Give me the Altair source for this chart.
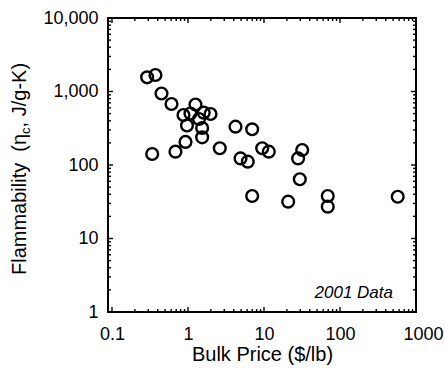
import altair as alt
import pandas as pd

# Bulk price ($/lb) and flammability (J/g-K)
price = [0.29, 0.373, 0.448, 0.607, 1.254, 0.872, 1.077, 1.61, 1.98, 1.395,
         0.97, 1.536, 1.536, 0.927, 0.338, 0.684, 2.62, 4.22, 6.99, 9.47,
         11.56, 4.91, 6.12, 6.99, 20.8, 31.8, 28.1, 29.6, 69.0, 69.0, 575]
flam = [1560, 1677, 939, 676, 666, 479, 502, 515, 494, 422,
        345, 319, 238, 206, 141, 152, 169, 332, 306, 169,
        152, 123, 111, 37.9, 31.7, 160, 123, 63.9, 37.9, 27.1, 37.0]

x_major = [0.1, 1, 10, 100, 1000]
x_minor = [round(m * d, 6) for d in [0.1, 1, 10, 100] for m in range(2, 10)]
y_major = [1, 10, 100, 1000, 10000]
y_minor = [m * d for d in [1, 10, 100, 1000] for m in range(2, 10)]
x_title = "Bulk Price ($/lb)"
y_title_parts = ["Flammability\u00a0 (η", "c", ", J/g-K)"]
annotation = ["2001 Data"]

FONT = "Liberation Sans"
W, H = 308, 294

df = pd.DataFrame({"price": price, "flam": flam})
xs = alt.Scale(type="log", domain=[0.0886, 1000], nice=False)
ys = alt.Scale(type="log", domain=[1, 10000], nice=False)

points = alt.Chart(df).mark_point(
    shape="circle", filled=False, color="black", size=138, strokeWidth=2.4, opacity=1
).encode(
    x=alt.X("price:Q", scale=xs,
            axis=alt.Axis(values=x_major, format="~g", ticks=False, tickSize=0, domain=False,
                          grid=False, labelFont=FONT, labelFontSize=18, labelColor="black",
                          labelPadding=13, labelFlush=False, labelAlign="center",
                          labelOverlap=False,
                          labelOffset={"condition": {"test": "datum.value >= 1000", "value": 7},
                                       "value": 0},
                          title=x_title, titleFont=FONT, titleFontSize=20,
                          titleFontWeight="normal", titleColor="black",
                          titleBaseline="alphabetic", titleY=48)),
    y=alt.Y("flam:Q", scale=ys,
            axis=alt.Axis(values=y_major, format=",d", ticks=False, tickSize=0, domain=False,
                          grid=False, labelFont=FONT, labelFontSize=18, labelColor="black",
                          labelPadding=10, labelFlush=False, labelOverlap=False, title="")),
)


def x_ticks(vals, side, length):
    y0 = H if side == "bottom" else 0
    y1 = H - length if side == "bottom" else length
    return alt.Chart(pd.DataFrame({"v": vals})).mark_rule(
        color="black", strokeWidth=1.4
    ).encode(x=alt.X("v:Q", scale=xs, axis=None), y=alt.value(y0), y2=alt.value(y1))


def y_ticks(vals, side, length):
    x0 = 0 if side == "left" else W
    x1 = length if side == "left" else W - length
    return alt.Chart(pd.DataFrame({"v": vals})).mark_rule(
        color="black", strokeWidth=1.4
    ).encode(y=alt.Y("v:Q", scale=ys, axis=None), x=alt.value(x0), x2=alt.value(x1))


tick_layers = [
    x_ticks(x_major, "bottom", 5), x_ticks(x_minor, "bottom", 3),
    x_ticks(x_major, "top", 5), x_ticks(x_minor, "top", 3),
    y_ticks(y_major, "left", 5), y_ticks(y_minor, "left", 3),
    y_ticks(y_major, "right", 5), y_ticks(y_minor, "right", 3),
]

frame = alt.Chart(pd.DataFrame({"f": [0]})).mark_rect(
    fillOpacity=0, stroke="black", strokeWidth=2
).encode(x=alt.value(0), x2=alt.value(W), y=alt.value(0), y2=alt.value(H))

# y-axis title drawn in three pieces so that the "c" can be a subscript
ytitle_df = pd.DataFrame({
    "t": y_title_parts,
    "size": [20, 13, 20],
    "px": [-82, -78, -82],
    "py": [257, 257 - 141.1, 257 - 141.1 - 6.5],
})
ytitle = alt.Chart(ytitle_df).mark_text(
    font=FONT, angle=270, align="left", baseline="alphabetic", color="black"
).encode(
    text="t:N",
    x=alt.X("px:Q", scale=None),
    y=alt.Y("py:Q", scale=None),
    size=alt.Size("size:Q", scale=None, legend=None),
)

note = alt.Chart(pd.DataFrame({"t": annotation})).mark_text(
    font=FONT, fontSize=17, fontStyle="italic", align="right", baseline="alphabetic",
    color="black"
).encode(text="t:N", x=alt.value(285), y=alt.value(280))

chart = (
    alt.layer(points, *tick_layers, frame, ytitle, note)
    .resolve_axis(x="independent", y="independent")
    .properties(width=W, height=H, autosize=alt.AutoSizeParams(type="none"),
                padding={"left": 108, "top": 18, "right": 28, "bottom": 58},
                background="white")
    .configure_view(stroke="black", strokeWidth=2)
)

chart.save("out.html", embed_options={"renderer": "svg", "actions": False})
